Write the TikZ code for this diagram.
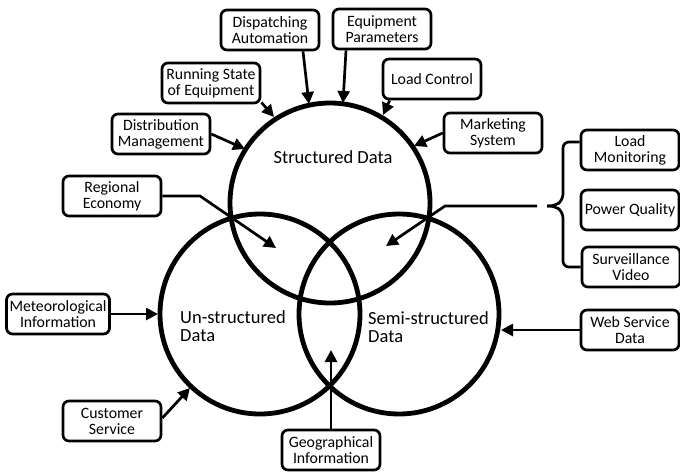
\documentclass[tikz,border=0pt]{standalone}
\usepackage{fontspec}
\setmainfont{Carlito}
\usetikzlibrary{arrows.meta}
\begin{document}
\begin{tikzpicture}[x=1pt,y=-1pt,
  src/.style={draw, line width=2.7pt, rounded corners=6pt, minimum width=98pt,
    minimum height=40pt, align=center, inner xsep=3pt, inner ysep=2pt,
    font=\fontsize{15.8}{16}\selectfont},
  ring/.style={line width=4.8pt},
  feed/.style={line width=2.7pt, -{Triangle[length=12pt,width=12pt]}},
  link/.style={line width=2.7pt, rounded corners=6pt},
  area/.style={font=\fontsize{18.5}{17.5}\selectfont, align=left, inner sep=0pt}]

\useasboundingbox (0,0) rectangle (680,472);
\fill[white] (0,0) rectangle (680,472);

% the three data categories
\draw[ring] (330,203) circle[radius=100];
\draw[ring] (260,314) circle[radius=100];
\draw[ring] (399,314) circle[radius=100];

\node[area, anchor=center] (sd) at (333,157) {Structured Data};
\node[area, anchor=west] (ud) at (180,326) {Un-structured\\Data};
\node[area, anchor=west] (md) at (368,327) {Semi-structured\\Data};

% data sources
\node[src] (DA) at (270,30)  {Dispatching\\Automation};
\node[src] (EP) at (382,29)  {Equipment\\Parameters};
\node[src] (RS) at (211,83)  {Running State\\of Equipment};
\node[src] (DM) at (161,134) {Distribution\\Management};
\node[src] (LC) at (432,79)  {Load Control};
\node[src] (MS) at (493,133) {Marketing\\System};
\node[src] (RE) at (112,196) {Regional\\Economy};
\node[src] (MI) at (58,314)  {Meteorological\\Information};
\node[src] (CS) at (112,421) {Customer\\Service};
\node[src] (GI) at (331,450) {Geographical\\Information};
\node[src] (WS) at (630,330) {Web Service\\Data};
\node[src] (LM) at (630,150) {Load\\Monitoring};
\node[src] (PQ) at (630,210) {Power Quality};
\node[src] (SV) at (631,267) {Surveillance\\Video};

% arrow tips on the circles
\coordinate (tDA) at (309,104);
\coordinate (tEP) at (343,103);
\coordinate (tRS) at (274,117);
\coordinate (tDM) at (245,149);
\coordinate (tLC) at (383,115);
\coordinate (tMS) at (414,146);
\coordinate (tRE) at (276,248);
\coordinate (kRE) at (200,196);
\coordinate (tMI) at (158,314);
\coordinate (tCS) at (190,388);
\coordinate (tGI) at (331,350);
\coordinate (tWS) at (501,330);
\coordinate (tPQ) at (386,246);
\coordinate (kPQ) at (445,206);
\coordinate (gap) at (537,206);
\coordinate (bTip) at (547,206);

% feeds into the circles
\draw[feed] ([xshift=33pt]DA.south) -- (tDA);
\draw[feed] ([xshift=-36pt]EP.south) -- (tEP);
\draw[feed] ([yshift=2pt]RS.south east) -- (tRS);
\draw[feed] (DM.east) -- (tDM);
\draw[feed] ([xshift=8pt]LC.south west) -- (tLC);
\draw[feed] (MS.west) -- (tMS);
\draw[feed] (RE.east) -- (kRE) -- (tRE);
\draw[feed] (MI.east) -- (tMI);
\draw[feed] ([yshift=3pt]CS.east) -- (tCS);
\draw[feed] (GI.north) -- (tGI);
\draw[feed] (WS.west) -- (tWS);
\draw[feed] (gap) -- (kPQ) -- (tPQ);

% brace grouping the three monitoring sources
\draw[link] ([yshift=8pt]LM.west) -- (563,142) -- (563,200) -- (555,206) -- (bTip);
\draw[link] (bTip) -- (555,206) -- (563,212) -- (563,267) -- (SV.west);
\end{tikzpicture}
\end{document}
